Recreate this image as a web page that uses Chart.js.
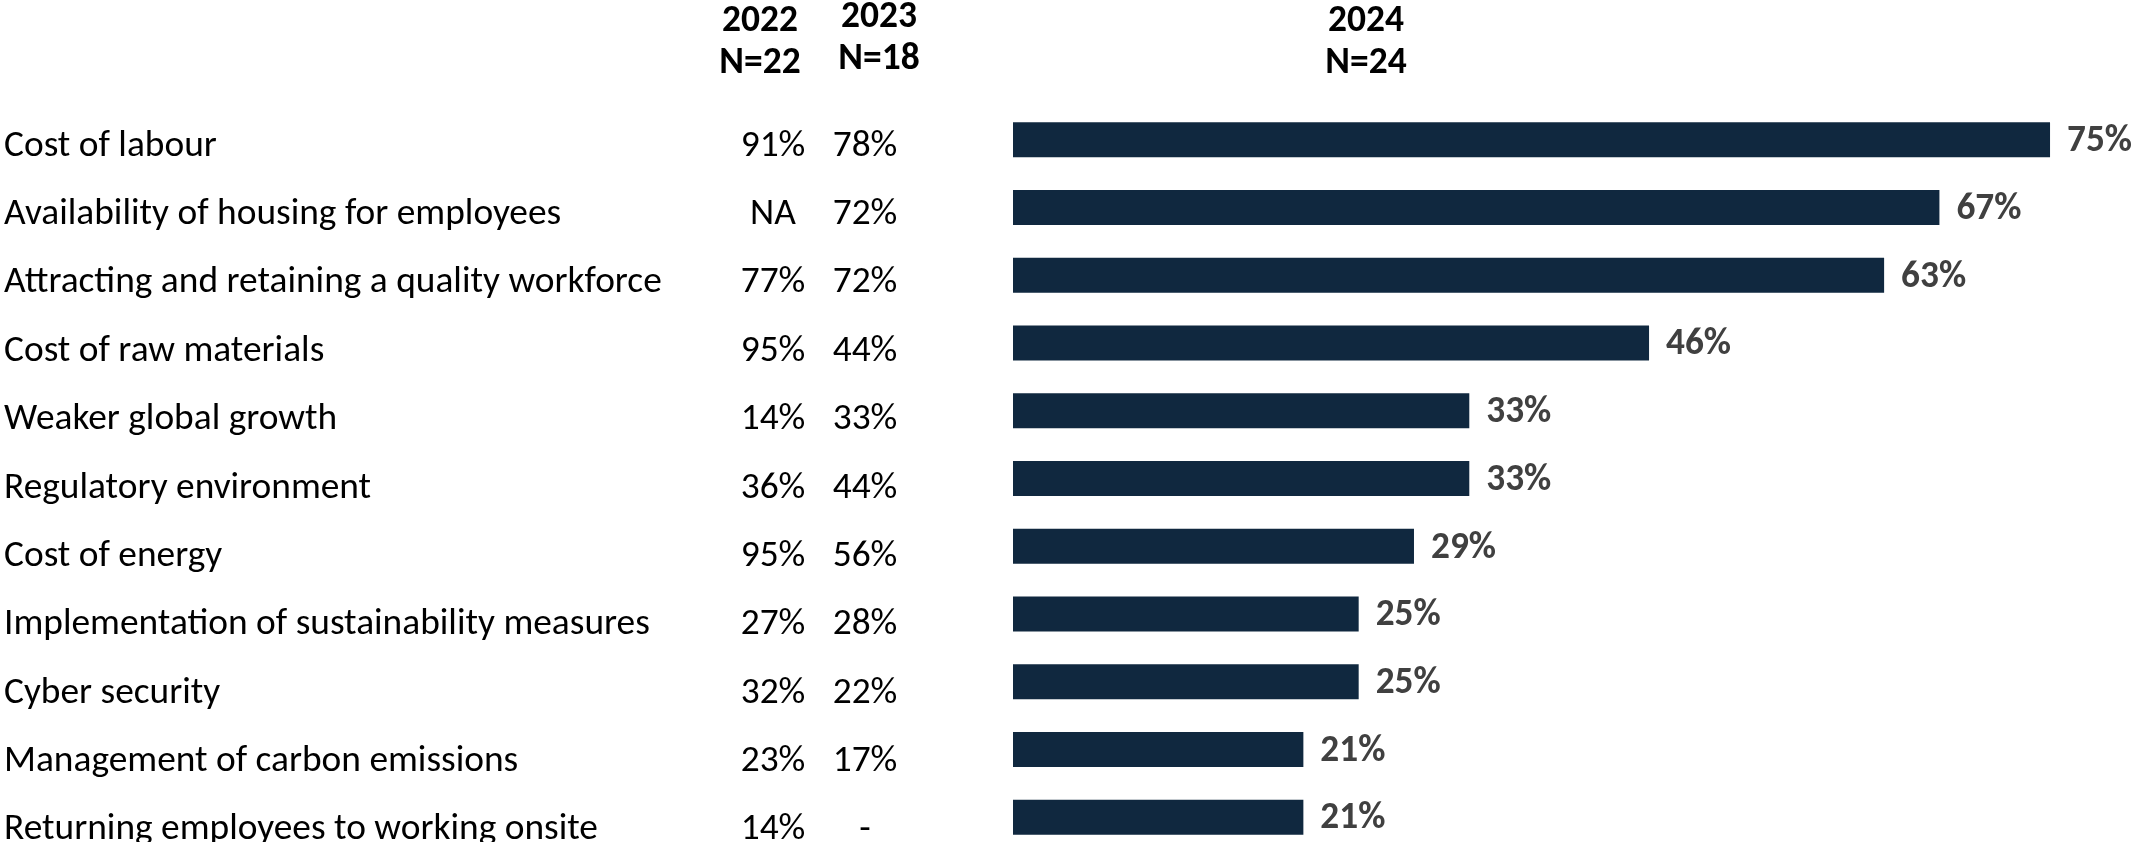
<!DOCTYPE html>
<html>
<head>
<meta charset="utf-8">
<script src="https://cdn.jsdelivr.net/npm/chart.js@4"></script>
<style>
  html, body { margin: 0; padding: 0; background: #fff; overflow: hidden; }
  #wrap { position: relative; width: 2133px; height: 860px; }
</style>
</head>
<body>
<div id="wrap"><canvas id="issues-bar"></canvas></div>
<script>
const categories = [
  'Cost of labour',
  'Availability of housing for employees',
  'Attracting and retaining a quality workforce',
  'Cost of raw materials',
  'Weaker global growth',
  'Regulatory environment',
  'Cost of energy',
  'Implementation of sustainability measures',
  'Cyber security',
  'Management of carbon emissions',
  'Returning employees to working onsite'
]
const share2024 = [75, 67, 63, 46, 33, 33, 29, 25, 25, 21, 21]
const share2022 = [91, null, 77, 95, 14, 36, 95, 27, 32, 23, 14]
const share2023 = [78, 72, 72, 44, 33, 44, 56, 28, 22, 17, null]
const colHeaders = [['2022', 'N=22'], ['2023', 'N=18'], ['2024', 'N=24']]

const FAMILY = 'Carlito, Lato, "Open Sans", sans-serif'
const BAR_COLOR = '#10283f'

// pick a font size so a reference string has the width it has in the picture
function fitSize(ctx, text, weight, target) {
  ctx.font = weight + ' 100px ' + FAMILY
  return 100 * target / ctx.measureText(text).width
}

const tablePlugin = {
  id: 'tableText',
  afterDraw(chart) {
    const ctx = chart.ctx
    const y = chart.scales.y
    ctx.save()
    const bodySize = fitSize(ctx, categories[2], '400', 658)
    const headSize = fitSize(ctx, '2022', '700', 76)

    ctx.fillStyle = '#000'
    ctx.textBaseline = 'middle'
    ctx.font = '400 ' + bodySize + 'px ' + FAMILY
    categories.forEach((c, i) => {
      // the text rows in the table sit on a slightly wider pitch than the bars
      const py = y.getPixelForValue(i) + 6.5 + i * 0.65
      ctx.textAlign = 'left'
      ctx.fillText(c, 4, py)
      ctx.textAlign = 'center'
      ctx.fillText(share2022[i] == null ? 'NA' : share2022[i] + '%', 773, py)
      ctx.fillText(share2023[i] == null ? '-' : share2023[i] + '%', 865, py)
    })

    ctx.font = '700 ' + headSize + 'px ' + FAMILY
    ctx.textAlign = 'center'
    const headX = [760, 879, 1366]
    const headY = [[22, 64], [18, 60], [22, 64]]
    colHeaders.forEach((h, i) => {
      ctx.fillText(h[0], headX[i], headY[i][0])
      ctx.fillText(h[1], headX[i], headY[i][1])
    })
    ctx.restore()
  },
  afterDatasetsDraw(chart) {
    const ctx = chart.ctx
    const meta = chart.getDatasetMeta(0)
    ctx.save()
    const size = fitSize(ctx, '75%', '700', 65)
    ctx.font = '700 ' + size + 'px ' + FAMILY
    ctx.fillStyle = '#404040'
    ctx.textAlign = 'left'
    ctx.textBaseline = 'middle'
    meta.data.forEach((bar, i) => {
      ctx.fillText(share2024[i] + '%', bar.x + 17, bar.y + 2)
    })
    ctx.restore()
  }
}

new Chart(document.getElementById('issues-bar'), {
  type: 'bar',
  data: {
    labels: categories,
    datasets: [{
      label: '2024',
      data: share2024,
      backgroundColor: BAR_COLOR,
      borderWidth: 0,
      categoryPercentage: 1,
      barPercentage: 0.517
    }]
  },
  options: {
    indexAxis: 'y',
    responsive: true,
    maintainAspectRatio: false,
    animation: false,
    layout: { padding: { left: 1013, right: 0, top: 106, bottom: 9 } },
    plugins: { legend: { display: false }, tooltip: { enabled: false } },
    scales: {
      x: { display: false, min: 0, max: 81 },
      y: { display: false }
    }
  },
  plugins: [tablePlugin]
})
</script>
</body>
</html>
